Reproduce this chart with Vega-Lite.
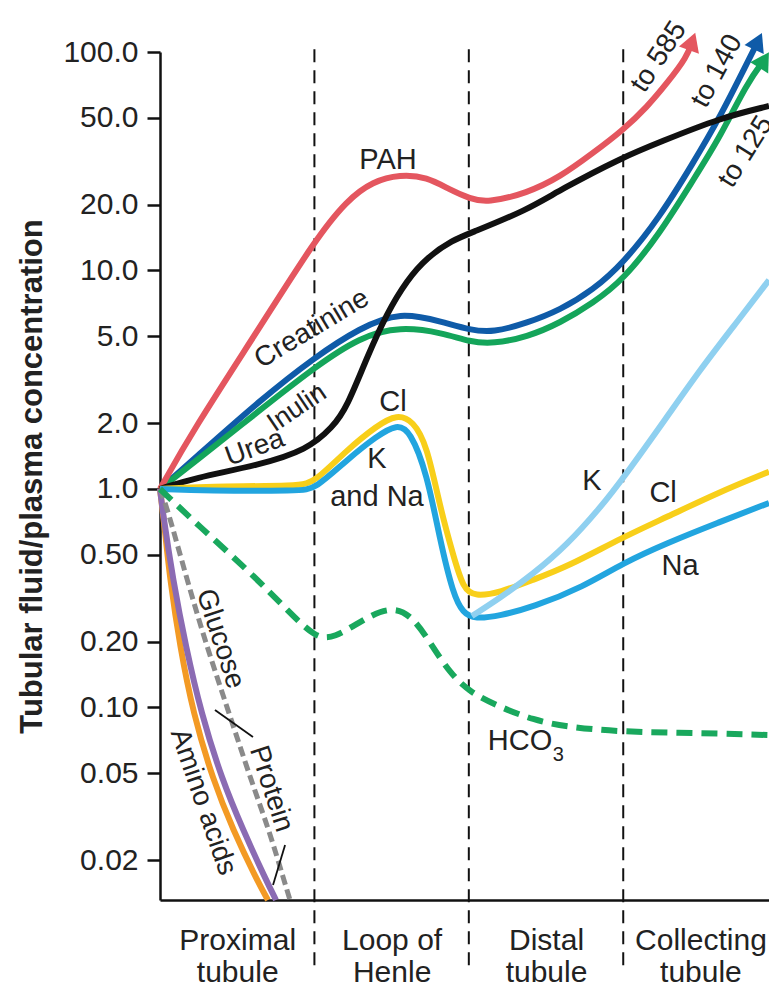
{
  "$schema": "https://vega.github.io/schema/vega-lite/v6.json",
  "width": 609,
  "height": 848,
  "autosize": "none",
  "padding": {"left": 160, "top": 52, "right": 0, "bottom": 86},
  "config": {
    "view": {"stroke": null},
    "font": "Liberation Sans",
    "axis": {"grid": false, "domainColor": "#111", "tickColor": "#111", "labelColor": "#222", "titleColor": "#222"}
  },
  "datasets": {
    "curves": [
      {"s": "Amino acids", "x": 0, "v": 1.0}, {"s": "Amino acids", "x": 0.032, "v": 0.649}, {"s": "Amino acids", "x": 0.065, "v": 0.384}, {"s": "Amino acids", "x": 0.13, "v": 0.189}, {"s": "Amino acids", "x": 0.214, "v": 0.0944}, {"s": "Amino acids", "x": 0.343, "v": 0.0466}, {"s": "Amino acids", "x": 0.473, "v": 0.0275}, {"s": "Amino acids", "x": 0.628, "v": 0.0162}, {"s": "Amino acids", "x": 0.699, "v": 0.01315},
      {"s": "Glucose", "x": 0, "v": 1.0}, {"s": "Glucose", "x": 0.019, "v": 0.776}, {"s": "Glucose", "x": 0.084, "v": 0.384}, {"s": "Glucose", "x": 0.168, "v": 0.189}, {"s": "Glucose", "x": 0.266, "v": 0.0944}, {"s": "Glucose", "x": 0.402, "v": 0.0466}, {"s": "Glucose", "x": 0.538, "v": 0.0275}, {"s": "Glucose", "x": 0.687, "v": 0.0162}, {"s": "Glucose", "x": 0.751, "v": 0.01315},
      {"s": "Protein", "x": 0, "v": 1.0}, {"s": "Protein", "x": 0.045, "v": 0.828}, {"s": "Protein", "x": 0.175, "v": 0.384}, {"s": "Protein", "x": 0.304, "v": 0.189}, {"s": "Protein", "x": 0.447, "v": 0.0944}, {"s": "Protein", "x": 0.589, "v": 0.0466}, {"s": "Protein", "x": 0.706, "v": 0.0275}, {"s": "Protein", "x": 0.803, "v": 0.0162}, {"s": "Protein", "x": 0.842, "v": 0.01315},
      {"s": "HCO3", "x": 0, "v": 1.0}, {"s": "HCO3", "x": 0.259, "v": 0.67}, {"s": "HCO3", "x": 0.583, "v": 0.417}, {"s": "HCO3", "x": 0.842, "v": 0.271}, {"s": "HCO3", "x": 1.004, "v": 0.21}, {"s": "HCO3", "x": 1.12, "v": 0.205}, {"s": "HCO3", "x": 1.341, "v": 0.26}, {"s": "HCO3", "x": 1.509, "v": 0.29}, {"s": "HCO3", "x": 1.639, "v": 0.26}, {"s": "HCO3", "x": 1.768, "v": 0.189}, {"s": "HCO3", "x": 1.878, "v": 0.144}, {"s": "HCO3", "x": 2.008, "v": 0.117}, {"s": "HCO3", "x": 2.202, "v": 0.1005}, {"s": "HCO3", "x": 2.416, "v": 0.0877}, {"s": "HCO3", "x": 2.636, "v": 0.0814}, {"s": "HCO3", "x": 3.0, "v": 0.0772}, {"s": "HCO3", "x": 3.497, "v": 0.0764}, {"s": "HCO3", "x": 3.944, "v": 0.0748},
      {"s": "Creatinine", "x": 0, "v": 1.0}, {"s": "Creatinine", "x": 0.214, "v": 1.36}, {"s": "Creatinine", "x": 0.648, "v": 2.55}, {"s": "Creatinine", "x": 1.004, "v": 4.02}, {"s": "Creatinine", "x": 1.295, "v": 5.46}, {"s": "Creatinine", "x": 1.554, "v": 6.5}, {"s": "Creatinine", "x": 1.833, "v": 5.81}, {"s": "Creatinine", "x": 2.008, "v": 5.34}, {"s": "Creatinine", "x": 2.157, "v": 5.2}, {"s": "Creatinine", "x": 2.377, "v": 5.75}, {"s": "Creatinine", "x": 2.591, "v": 6.59}, {"s": "Creatinine", "x": 2.804, "v": 8.14}, {"s": "Creatinine", "x": 3.0, "v": 10.8}, {"s": "Creatinine", "x": 3.238, "v": 17.6}, {"s": "Creatinine", "x": 3.452, "v": 31.0}, {"s": "Creatinine", "x": 3.627, "v": 50.4}, {"s": "Creatinine", "x": 3.802, "v": 89.1}, {"s": "Creatinine", "x": 3.873, "v": 112},
      {"s": "Inulin", "x": 0, "v": 1.0}, {"s": "Inulin", "x": 0.214, "v": 1.31}, {"s": "Inulin", "x": 0.648, "v": 2.3}, {"s": "Inulin", "x": 1.004, "v": 3.62}, {"s": "Inulin", "x": 1.295, "v": 4.96}, {"s": "Inulin", "x": 1.554, "v": 5.55}, {"s": "Inulin", "x": 1.833, "v": 5.18}, {"s": "Inulin", "x": 2.008, "v": 4.71}, {"s": "Inulin", "x": 2.157, "v": 4.62}, {"s": "Inulin", "x": 2.377, "v": 4.96}, {"s": "Inulin", "x": 2.591, "v": 5.75}, {"s": "Inulin", "x": 2.804, "v": 7.1}, {"s": "Inulin", "x": 3.0, "v": 9.05}, {"s": "Inulin", "x": 3.238, "v": 14.8}, {"s": "Inulin", "x": 3.452, "v": 25.9}, {"s": "Inulin", "x": 3.627, "v": 40.8}, {"s": "Inulin", "x": 3.802, "v": 72.1}, {"s": "Inulin", "x": 3.912, "v": 91.9},
      {"s": "PAH", "x": 0, "v": 1.0}, {"s": "PAH", "x": 0.214, "v": 1.86}, {"s": "PAH", "x": 0.648, "v": 5.51}, {"s": "PAH", "x": 1.004, "v": 13.8}, {"s": "PAH", "x": 1.211, "v": 21.0}, {"s": "PAH", "x": 1.38, "v": 25.6}, {"s": "PAH", "x": 1.554, "v": 27.5}, {"s": "PAH", "x": 1.729, "v": 26.8}, {"s": "PAH", "x": 1.878, "v": 23.4}, {"s": "PAH", "x": 2.008, "v": 21.3}, {"s": "PAH", "x": 2.118, "v": 20.4}, {"s": "PAH", "x": 2.377, "v": 22.6}, {"s": "PAH", "x": 2.591, "v": 26.8}, {"s": "PAH", "x": 2.804, "v": 34.5}, {"s": "PAH", "x": 3.0, "v": 44.0}, {"s": "PAH", "x": 3.154, "v": 56.0}, {"s": "PAH", "x": 3.284, "v": 72.1}, {"s": "PAH", "x": 3.413, "v": 94.9}, {"s": "PAH", "x": 3.446, "v": 111.7},
      {"s": "Urea", "x": 0, "v": 1.0}, {"s": "Urea", "x": 0.214, "v": 1.12}, {"s": "Urea", "x": 0.648, "v": 1.29}, {"s": "Urea", "x": 0.952, "v": 1.51}, {"s": "Urea", "x": 1.12, "v": 1.92}, {"s": "Urea", "x": 1.211, "v": 2.37}, {"s": "Urea", "x": 1.341, "v": 4.02}, {"s": "Urea", "x": 1.47, "v": 6.39}, {"s": "Urea", "x": 1.6, "v": 9.05}, {"s": "Urea", "x": 1.729, "v": 11.5}, {"s": "Urea", "x": 1.898, "v": 13.8}, {"s": "Urea", "x": 2.008, "v": 14.8}, {"s": "Urea", "x": 2.377, "v": 18.9}, {"s": "Urea", "x": 2.591, "v": 23.4}, {"s": "Urea", "x": 3.0, "v": 33.1}, {"s": "Urea", "x": 3.238, "v": 38.7}, {"s": "Urea", "x": 3.627, "v": 49.9}, {"s": "Urea", "x": 3.944, "v": 56.6},
      {"s": "Cl", "x": 0, "v": 1.0}, {"s": "Cl", "x": 0.3, "v": 1.03}, {"s": "Cl", "x": 0.907, "v": 1.03}, {"s": "Cl", "x": 1.004, "v": 1.08}, {"s": "Cl", "x": 1.211, "v": 1.51}, {"s": "Cl", "x": 1.405, "v": 1.95}, {"s": "Cl", "x": 1.535, "v": 2.2}, {"s": "Cl", "x": 1.639, "v": 2.05}, {"s": "Cl", "x": 1.729, "v": 1.59}, {"s": "Cl", "x": 1.813, "v": 0.828}, {"s": "Cl", "x": 1.898, "v": 0.5}, {"s": "Cl", "x": 1.963, "v": 0.35}, {"s": "Cl", "x": 2.04, "v": 0.322}, {"s": "Cl", "x": 2.202, "v": 0.336}, {"s": "Cl", "x": 2.416, "v": 0.384}, {"s": "Cl", "x": 2.636, "v": 0.44}, {"s": "Cl", "x": 3.0, "v": 0.603}, {"s": "Cl", "x": 3.284, "v": 0.745}, {"s": "Cl", "x": 3.608, "v": 0.959}, {"s": "Cl", "x": 3.944, "v": 1.2},
      {"s": "Na", "x": 0, "v": 1.0}, {"s": "Na", "x": 0.3, "v": 0.98}, {"s": "Na", "x": 0.907, "v": 0.98}, {"s": "Na", "x": 1.004, "v": 1.0}, {"s": "Na", "x": 1.211, "v": 1.36}, {"s": "Na", "x": 1.405, "v": 1.75}, {"s": "Na", "x": 1.535, "v": 1.98}, {"s": "Na", "x": 1.619, "v": 1.85}, {"s": "Na", "x": 1.729, "v": 1.18}, {"s": "Na", "x": 1.813, "v": 0.584}, {"s": "Na", "x": 1.898, "v": 0.33}, {"s": "Na", "x": 1.963, "v": 0.27}, {"s": "Na", "x": 2.04, "v": 0.254}, {"s": "Na", "x": 2.202, "v": 0.263}, {"s": "Na", "x": 2.416, "v": 0.288}, {"s": "Na", "x": 2.74, "v": 0.356}, {"s": "Na", "x": 3.0, "v": 0.459}, {"s": "Na", "x": 3.284, "v": 0.566}, {"s": "Na", "x": 3.608, "v": 0.699}, {"s": "Na", "x": 3.944, "v": 0.863},
      {"s": "K", "x": 2.02, "v": 0.262}, {"s": "K", "x": 2.202, "v": 0.317}, {"s": "K", "x": 2.416, "v": 0.408}, {"s": "K", "x": 2.636, "v": 0.554}, {"s": "K", "x": 2.85, "v": 0.819}, {"s": "K", "x": 3.0, "v": 1.12}, {"s": "K", "x": 3.284, "v": 2.14}, {"s": "K", "x": 3.497, "v": 3.51}, {"s": "K", "x": 3.711, "v": 5.51}, {"s": "K", "x": 3.944, "v": 9.05}
    ],
    "dividers": [
      {"x": 1, "v": 103, "v2": 0.0063},
      {"x": 2, "v": 103, "v2": 0.0063},
      {"x": 3, "v": 103, "v2": 0.0063}
    ],
    "tips": [
      {"s": "PAH", "x": 3.446, "v": 111.7},
      {"s": "Creatinine", "x": 3.873, "v": 112},
      {"s": "Inulin", "x": 3.912, "v": 91.9}
    ],
    "leaders": [
      {"x": 0.356, "v": 0.0974, "x2": 0.602, "v2": 0.0733},
      {"x": 0.81, "v": 0.0235, "x2": 0.732, "v2": 0.0154}
    ],
    "labels": [
      {"t": "PAH", "x": 1.477, "v": 32.0},
      {"t": "Cl", "x": 1.509, "v": 2.5},
      {"t": "K", "x": 1.405, "v": 1.37},
      {"t": "and Na", "x": 1.405, "v": 0.919},
      {"t": "K", "x": 2.798, "v": 1.09},
      {"t": "Cl", "x": 3.258, "v": 0.959},
      {"t": "Na", "x": 3.368, "v": 0.444},
      {"t": "HCO", "x": 2.332, "v": 0.0703}
    ],
    "subs": [{"t": "3", "x": 2.58, "v": 0.0606}],
    "rotated": [
      {"t": "Creatinine", "x": 0.984, "v": 5.4},
      {"t": "Inulin", "x": 0.887, "v": 2.35},
      {"t": "Urea", "x": 0.615, "v": 1.54},
      {"t": "Glucose", "x": 0.389, "v": 0.206},
      {"t": "Amino acids", "x": 0.278, "v": 0.0369},
      {"t": "Protein", "x": 0.719, "v": 0.0424},
      {"t": "to 585", "x": 3.232, "v": 94.9},
      {"t": "to 140", "x": 3.608, "v": 81.8},
      {"t": "to 125", "x": 3.795, "v": 34.9}
    ]
  },
  "encoding": {
    "x": {
      "field": "x", "type": "quantitative",
      "scale": {"domain": [0, 3.944], "nice": false, "zero": false},
      "axis": {
        "values": [0.5, 1.5, 2.5, 3.5],
        "labelExpr": "datum.value == 0.5 ? ['Proximal','tubule'] : datum.value == 1.5 ? ['Loop of','Henle'] : datum.value == 2.5 ? ['Distal','tubule'] : ['Collecting','tubule']",
        "ticks": false, "domainWidth": 2.5, "labelFontSize": 30, "labelLineHeight": 32, "labelPadding": 25, "labelBaseline": "top",
        "labelFlush": false, "labelOverlap": false, "labelBound": false, "title": null
      }
    },
    "y": {
      "field": "v", "type": "quantitative",
      "scale": {"type": "log", "domain": [0.01315, 100], "nice": false},
      "axis": {
        "values": [100, 50, 20, 10, 5, 2, 1, 0.5, 0.2, 0.1, 0.05, 0.02],
        "labelExpr": "datum.value >= 1 ? format(datum.value, '.1f') : format(datum.value, '.2f')",
        "tickSize": 13, "tickWidth": 2.5, "domainWidth": 2.5, "labelFontSize": 30, "labelPadding": 9,
        "title": "Tubular fluid/plasma concentration", "titleFontSize": 31, "titleFontWeight": "bold", "titlePadding": 14
      }
    }
  },
  "layer": [
    {
      "data": {"name": "dividers"},
      "mark": {"type": "rule", "strokeDash": [13, 8], "strokeWidth": 2, "color": "#111"},
      "encoding": {"y2": {"field": "v2"}}
    },
    {
      "data": {"name": "curves"},
      "transform": [{"filter": "datum.s !== 'HCO3' && datum.s !== 'Protein'"}],
      "mark": {"type": "line", "strokeWidth": 6, "interpolate": "basis"},
      "encoding": {
        "color": {
          "field": "s", "type": "nominal", "legend": null,
          "scale": {
            "domain": ["Amino acids", "Glucose", "Creatinine", "Inulin", "PAH", "Urea", "Cl", "Na", "K"],
            "range": ["#f39a24", "#8b6bb3", "#0f5ba8", "#14a55a", "#e4565f", "#111111", "#f8cf1a", "#22a5df", "#8fd0f0"]
          }
        },
        "detail": {"field": "s"}
      }
    },
    {
      "data": {"name": "curves"},
      "transform": [{"filter": "datum.s === 'Protein'"}],
      "mark": {"type": "line", "strokeWidth": 5, "interpolate": "basis", "color": "#8a8a8a", "strokeDash": [10, 5]},
      "encoding": {}
    },
    {
      "data": {"name": "curves"},
      "transform": [{"filter": "datum.s === 'HCO3'"}],
      "mark": {"type": "line", "strokeWidth": 6, "interpolate": "basis", "color": "#19a85d", "strokeDash": [16, 9]},
      "encoding": {}
    },
    {
      "data": {"name": "tips"},
      "transform": [{"filter": "datum.s === 'PAH'"}],
      "mark": {"type": "point", "shape": "triangle-up", "filled": true, "size": 450, "angle": 20, "color": "#e4565f", "opacity": 1},
      "encoding": {}
    },
    {
      "data": {"name": "tips"},
      "transform": [{"filter": "datum.s === 'Creatinine'"}],
      "mark": {"type": "point", "shape": "triangle-up", "filled": true, "size": 450, "angle": 25, "color": "#0f5ba8", "opacity": 1},
      "encoding": {}
    },
    {
      "data": {"name": "tips"},
      "transform": [{"filter": "datum.s === 'Inulin'"}],
      "mark": {"type": "point", "shape": "triangle-up", "filled": true, "size": 450, "angle": 32, "color": "#14a55a", "opacity": 1},
      "encoding": {}
    },
    {
      "data": {"name": "leaders"},
      "mark": {"type": "rule", "strokeWidth": 1.8, "color": "#111"},
      "encoding": {
        "x2": {"field": "x2"},
        "y2": {"field": "v2"}
      }
    },
    {
      "data": {"name": "labels"},
      "mark": {"type": "text", "fontSize": 29, "color": "#222", "align": "center", "baseline": "middle"},
      "encoding": {"text": {"field": "t"}}
    },
    {
      "data": {"name": "subs"},
      "mark": {"type": "text", "fontSize": 20, "color": "#222", "align": "center", "baseline": "middle"},
      "encoding": {"text": {"field": "t"}}
    },
    {
      "data": {"name": "rotated"},
      "transform": [{"filter": "datum.t === 'Creatinine'"}],
      "mark": {"type": "text", "fontSize": 28, "color": "#222", "angle": -31, "align": "center", "baseline": "middle"},
      "encoding": {"text": {"field": "t"}}
    },
    {
      "data": {"name": "rotated"},
      "transform": [{"filter": "datum.t === 'Inulin'"}],
      "mark": {"type": "text", "fontSize": 27, "color": "#222", "angle": -34, "align": "center", "baseline": "middle"},
      "encoding": {"text": {"field": "t"}}
    },
    {
      "data": {"name": "rotated"},
      "transform": [{"filter": "datum.t === 'Urea'"}],
      "mark": {"type": "text", "fontSize": 28, "color": "#222", "angle": -20, "align": "center", "baseline": "middle"},
      "encoding": {"text": {"field": "t"}}
    },
    {
      "data": {"name": "rotated"},
      "transform": [{"filter": "datum.t === 'Glucose' || datum.t === 'Protein'"}],
      "mark": {"type": "text", "fontSize": 28, "color": "#222", "angle": 72, "align": "center", "baseline": "middle"},
      "encoding": {"text": {"field": "t"}}
    },
    {
      "data": {"name": "rotated"},
      "transform": [{"filter": "datum.t === 'Amino acids'"}],
      "mark": {"type": "text", "fontSize": 28, "color": "#222", "angle": 71, "align": "center", "baseline": "middle"},
      "encoding": {"text": {"field": "t"}}
    },
    {
      "data": {"name": "rotated"},
      "transform": [{"filter": "datum.t === 'to 585'"}],
      "mark": {"type": "text", "fontSize": 28, "color": "#222", "angle": -57, "align": "center", "baseline": "middle"},
      "encoding": {"text": {"field": "t"}}
    },
    {
      "data": {"name": "rotated"},
      "transform": [{"filter": "datum.t === 'to 140'"}],
      "mark": {"type": "text", "fontSize": 28, "color": "#222", "angle": -62, "align": "center", "baseline": "middle"},
      "encoding": {"text": {"field": "t"}}
    },
    {
      "data": {"name": "rotated"},
      "transform": [{"filter": "datum.t === 'to 125'"}],
      "mark": {"type": "text", "fontSize": 28, "color": "#222", "angle": -58, "align": "center", "baseline": "middle"},
      "encoding": {"text": {"field": "t"}}
    }
  ]
}
